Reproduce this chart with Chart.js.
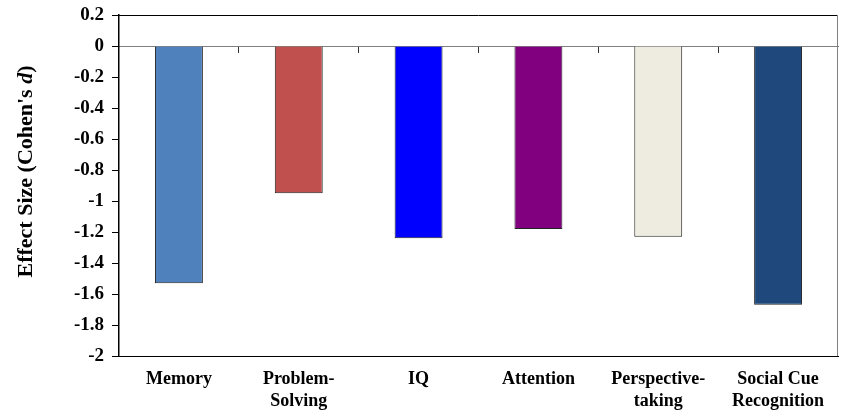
<!DOCTYPE html>
<html>
<head>
<meta charset="utf-8">
<script src="https://cdn.jsdelivr.net/npm/chart.js@4.4.1/dist/chart.umd.min.js"></script>
<style>
  html, body { margin:0; padding:0; background:#fff; }
  #wrap { width:842px; height:411px; }
</style>
</head>
<body>
<div id="wrap"><canvas id="chart" width="842" height="411"></canvas></div>
<script>
const categories = ['Memory', ['Problem-', 'Solving'], 'IQ', 'Attention', ['Perspective-', 'taking'], ['Social Cue', 'Recognition']];
const effectSizes = [-1.53, -0.95, -1.24, -1.18, -1.23, -1.67];
const barColors = ['#4F81BD', '#C0504D', '#0000FF', '#800080', '#EEECE1', '#1F497D'];
const yMin = -2, yMax = 0.2, yStep = 0.2;
const serif = '"Liberation Serif", "Times New Roman", serif';

// frame (top/right) plus y title with italic d
const framePlugin = {
  id:'frame',
  afterDraw(c){
    const { ctx, chartArea:a } = c;
    ctx.save();
    ctx.lineWidth = 1;
    ctx.strokeStyle = '#000';
    ctx.beginPath(); ctx.moveTo(a.left, a.top + 0.5); ctx.lineTo(a.right, a.top + 0.5); ctx.stroke();
    ctx.strokeStyle = '#808080';
    ctx.beginPath(); ctx.moveTo(a.right - 0.5, a.top); ctx.lineTo(a.right - 0.5, a.bottom); ctx.stroke();

    const parts = [
      ['bold 22px ' + serif, "Effect Size (Cohen's "],
      ['italic bold 22px ' + serif, 'd'],
      ['bold 22px ' + serif, ')']
    ];
    let total = 0;
    parts.forEach(p => { ctx.font = p[0]; total += ctx.measureText(p[1]).width; });
    ctx.translate(26, (a.top + a.bottom) / 2 - 14);
    ctx.rotate(-Math.PI / 2);
    ctx.fillStyle = '#000';
    ctx.textBaseline = 'middle';
    let x = -total / 2;
    parts.forEach(p => { ctx.font = p[0]; ctx.fillText(p[1], x, 0); x += ctx.measureText(p[1]).width; });
    ctx.restore();
  }
};

new Chart(document.getElementById('chart'), {
  type:'bar',
  data:{
    labels:categories,
    datasets:[{
      data:effectSizes,
      backgroundColor:barColors,
      borderColor:'#222',
      borderWidth:1,
      barPercentage:0.4,
      categoryPercentage:1.0
    }]
  },
  options:{
    responsive:false,
    animation:false,
    layout:{ padding:{ top:15, right:4, left:0, bottom:0 } },
    plugins:{ legend:{ display:false }, tooltip:{ enabled:false } },
    scales:{
      x:{
        offset:true,
        grid:{ display:false },
        border:{ display:true, color:'#000', width:1 },
        ticks:{ color:'#000', font:{ family:serif, size:18, weight:'bold', lineHeight:1.2 }, padding:5, maxRotation:0, autoSkip:false },
        afterFit(s){ s.height = 55; s.paddingLeft = 0; s.paddingRight = 0; }
      },
      x2:{
        type:'category',
        position:{ y:0 },
        offset:true,
        grid:{ offset:true, drawOnChartArea:false, drawTicks:true, tickLength:6, color:'#333' },
        border:{ display:true, color:'#808080', width:1 },
        ticks:{ display:false }
      },
      y:{
        min:yMin,
        max:yMax,
        grid:{ drawOnChartArea:false, drawTicks:true, tickLength:7, color:'#000' },
        border:{ display:true, color:'#000', width:1.5 },
        ticks:{
          stepSize:yStep,
          color:'#000',
          padding:8,
          font:{ family:serif, size:19, weight:'bold' },
          callback:v => String(Math.round(v * 10) / 10)
        },
        afterFit(s){ s.width = 119; s.paddingTop = 0; s.paddingBottom = 0; }
      }
    }
  },
  plugins:[framePlugin]
});
</script>
</body>
</html>
